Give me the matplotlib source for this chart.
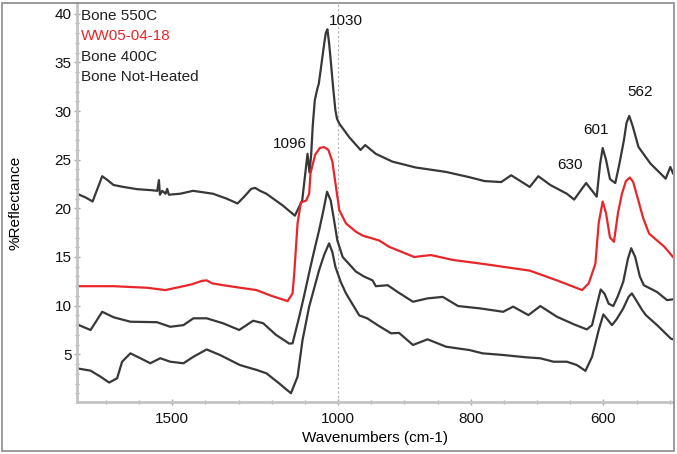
import numpy as np
import matplotlib
matplotlib.use("Agg")
from matplotlib import pyplot as plt
from matplotlib.patches import Rectangle
from matplotlib.ticker import FixedLocator

plt.rcParams["font.family"] = ["Liberation Sans", "DejaVu Sans"]

# --- data (wavenumber, %reflectance) ---
wn_550 = [1787, 1760, 1740, 1711, 1695, 1677, 1647, 1606, 1561, 1545, 1540, 1537,
          1530, 1520, 1515, 1510, 1476, 1437, 1377, 1336, 1303, 1280, 1262, 1250,
          1235, 1216, 1167, 1130, 1108, 1092, 1086, 1081, 1076, 1070, 1063, 1058,
          1050, 1043, 1037, 1032, 1027, 1022, 1015, 1008, 1003, 998, 983, 966, 959,
          943, 918, 883, 837, 802, 779, 754, 739, 711, 698, 680, 655, 644, 626, 610,
          605, 601, 596, 590, 582, 576, 569, 565, 561, 556, 547, 529, 506, 499, 495]
r_550 = [21.5, 21.1, 20.7, 23.3, 22.9, 22.4, 22.2, 21.97, 21.86, 21.8, 22.9, 21.4,
         21.8, 21.5, 22.0, 21.4, 21.5, 21.8, 21.5, 21.0, 20.5, 21.3, 22.0, 22.1,
         21.8, 21.5, 20.3, 19.25, 20.8, 25.6, 23.7, 25.5, 28.6, 31.1, 32.2, 32.8,
         34.8, 36.6, 38.0, 38.4, 37.0, 35.2, 32.5, 30.1, 29.2, 28.7, 27.3, 26.0, 26.5,
         25.6, 24.8, 24.2, 23.74, 23.2, 22.8, 22.7, 23.4, 22.2, 23.3, 22.4, 21.5, 20.9, 22.6, 21.2,
         24.5, 26.2, 25.0, 23.0, 22.6, 24.5, 27.0, 28.8, 29.5, 28.5, 26.3, 24.6, 23.05, 24.25, 23.6]

wn_ww = [1787, 1676, 1576, 1521, 1466, 1440, 1410, 1396, 1380, 1346, 1301, 1246,
         1200, 1152, 1137, 1132, 1122, 1112, 1096, 1087, 1083, 1069, 1055, 1042,
         1029, 1017, 1007, 998, 988, 973, 963, 938, 923, 885, 860, 827, 776, 711,
         670, 632, 622, 612, 607, 601, 596, 590, 584, 578, 572, 566, 560, 555, 548,
         540, 531, 508, 495]
r_ww = [12.0, 12.0, 11.84, 11.6, 12.0, 12.2, 12.55, 12.6, 12.3, 12.1, 11.87, 11.6,
        11.0, 10.47, 11.26, 13.3, 18.45, 20.6, 20.8, 21.5, 23.6, 25.5, 26.2, 26.3,
        26.0, 24.8, 22.4, 19.8, 18.45, 17.6, 17.2, 16.7, 16.05, 15.0, 15.2, 14.7, 14.24, 13.6,
        12.6, 11.6, 12.3, 14.3, 18.5, 20.7, 19.5, 17.0, 16.56, 19.5, 21.5, 22.8, 23.17, 22.7, 21.0,
        19.0, 17.4, 16.05, 15.0]

wn_400 = [1787, 1746, 1711, 1676, 1626, 1546, 1506, 1466, 1436, 1396, 1346, 1298,
          1256, 1226, 1187, 1147, 1137, 1127, 1117, 1103, 1083, 1069, 1057, 1044,
          1033, 1022, 1012, 1002, 993, 973, 961, 948, 943, 925, 910, 887, 865, 842,
          819, 786, 751, 736, 713, 695, 670, 645, 625, 617, 610, 604, 598, 592, 585,
          578, 570, 563, 558, 552, 545, 539, 519, 504, 495]
r_400 = [8.08, 7.5, 9.37, 8.8, 8.35, 8.3, 7.83, 8.0, 8.7, 8.7, 8.18, 7.5,
         8.45, 8.2, 7.0, 6.1, 6.13, 7.5, 8.86, 10.9, 14.0, 16.05, 17.75, 19.8,
         21.7, 20.8, 18.8, 16.7, 15.0, 13.5, 13.0, 12.6, 12.0, 12.1, 11.4, 10.4, 10.75, 10.9,
         9.96, 9.72, 9.37, 9.9, 9.03, 9.96, 8.86, 8.1, 7.56, 8.0, 10.0, 11.66, 11.2, 10.2, 9.96,
         11.0, 12.45, 14.8, 15.9, 15.0, 13.0, 12.1, 11.4, 10.57, 10.65]

wn_nh = [1787, 1746, 1716, 1690, 1666, 1651, 1626, 1596, 1566, 1536, 1506, 1466,
         1436, 1396, 1356, 1296, 1246, 1216, 1177, 1142, 1122, 1107, 1087, 1057, 1042,
         1027, 1017, 1008, 996, 988, 968, 956, 938, 920, 908, 887, 865, 837, 802, 782,
         751, 716, 695, 675, 655, 640, 627, 617, 607, 600, 594, 587, 580, 570, 562,
         557, 550, 542, 536, 519, 498, 495]
r_nh = [3.56, 3.32, 2.7, 2.1, 2.54, 4.24, 5.1, 4.6, 4.08, 4.6, 4.24, 4.08,
        4.75, 5.5, 4.93, 3.9, 3.4, 3.05, 2.0, 1.0, 2.7, 6.47, 9.9, 13.65, 15.2,
        16.4, 15.5, 14.0, 12.45, 11.26, 9.0, 8.7, 7.9, 7.16, 7.2, 5.96, 6.54, 5.78, 5.44, 5.1,
        4.93, 4.69, 4.59, 4.24, 4.24, 3.9, 3.3, 4.75, 7.5, 9.1, 8.6, 8.0, 8.6, 9.72, 10.9,
        11.26, 10.5, 9.6, 9.03, 8.0, 6.6, 6.54]

labels = ["Bone 550C", "WW05-04-18", "Bone 400C", "Bone Not-Heated"]
label_colors = ["#222222", "#e8262a", "#222222", "#222222"]

peak_text = ["1030", "1096", "630", "601", "562"]
peak_pos = [(988, 39.3), (1144, 26.6), (651, 24.5), (611, 28.1), (545, 32.0)]

dark = "#383838"
red = "#e8262a"


# OMNIC style axis: region above 1000 cm-1 is compressed 2x
def fwd(x):
    x = np.asarray(x, dtype=float)
    return np.where(x > 1000, 1000 + (x - 1000) * 0.5, x)


def inv(x):
    x = np.asarray(x, dtype=float)
    return np.where(x > 1000, 1000 + (x - 1000) * 2.0, x)


fig = plt.figure(figsize=(6.77, 4.54), dpi=100)
ax = fig.add_axes([77 / 677, 1 - 402 / 454, 596 / 677, 399 / 454])
ax.set_xscale("function", functions=(fwd, inv))

for wn, r, col in [(wn_550, r_550, dark), (wn_ww, r_ww, red),
                   (wn_400, r_400, dark), (wn_nh, r_nh, dark)]:
    ax.plot(wn, r, color=col, lw=1.6, solid_joinstyle="round")

ax.axvline(1000, color="#b4b4b4", lw=0.8, ls=(0, (2, 2)), zorder=0)

ax.set_xlim(1787, 495)
ax.set_ylim(0.1, 41.1)

ax.xaxis.set_major_locator(FixedLocator([1500, 1000, 800, 600]))
ax.xaxis.set_minor_locator(FixedLocator([1700, 1600, 1400, 1300, 1200, 1100,
                                         950, 900, 850, 750, 700, 650, 550, 500]))
ax.yaxis.set_major_locator(FixedLocator([5, 10, 15, 20, 25, 30, 35, 40]))
ax.yaxis.set_minor_locator(FixedLocator(list(range(1, 41))))
ax.xaxis.set_minor_formatter(plt.NullFormatter())

ax.tick_params(which="both", direction="inout", color="#a8a8a8", width=1,
               labelsize=11, labelcolor="#111111")
ax.tick_params(which="major", length=4)
ax.tick_params(which="minor", length=3)
ax.tick_params(axis="x", pad=5)
ax.tick_params(axis="y", pad=2)

for side in ("top", "right"):
    ax.spines[side].set_visible(False)
for side in ("left", "bottom"):
    ax.spines[side].set_color("#c4c4c4")
    ax.spines[side].set_linewidth(2)

ax.set_xlabel("Wavenumbers (cm-1)", fontsize=11)
ax.set_ylabel("%Reflectance", fontsize=11)
ax.xaxis.set_label_coords(0.5, -0.073)
ax.yaxis.set_label_coords(-0.092, 0.5)

for i, (lab, col) in enumerate(zip(labels, label_colors)):
    ax.text(0.007, 0.967 - i * 0.0507, lab, color=col, fontsize=11,
            transform=ax.transAxes, ha="left", va="center")

for txt, (x, y) in zip(peak_text, peak_pos):
    ax.text(x, y, txt, fontsize=11, color="#111111", ha="center", va="center")

# grey frame round the whole picture
fig.patches.append(Rectangle((2 / 677, 3 / 454), 672 / 677, 448 / 454,
                             transform=fig.transFigure, fill=False,
                             edgecolor="#8a8a8a", lw=1.2))

fig.savefig("out.png", dpi=100)
